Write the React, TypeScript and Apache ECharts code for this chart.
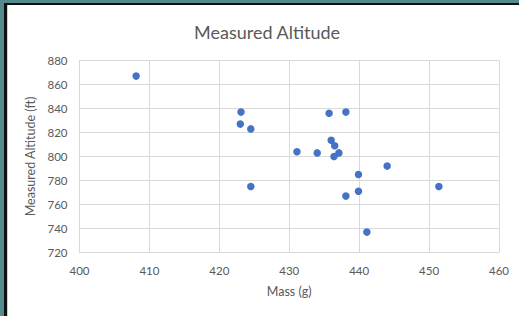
import React, { useEffect, useRef } from "react";
import * as echarts from "echarts";

const massValues = [408.1, 423.1, 423.0, 424.5, 424.5, 431.1, 434.0, 435.7, 438.1, 436.0, 436.5, 436.4, 437.1, 438.1, 439.9, 439.9, 441.1, 444.0, 451.4];
const altitudeValues = [867, 837, 827, 823, 775, 804, 803, 836, 837, 813.5, 809, 800, 803, 767, 785, 771, 737, 792, 775];
const titleText = "Measured Altitude";
const xName = "Mass (g)";
const yName = "Measured Altitude (ft)";

const FONT = "Lato, 'Open Sans', sans-serif";
const TXT = "#595959";
const GRID = "#d9d9d9";

export default function App() {
  const ref = useRef<HTMLDivElement>(null);
  useEffect(() => {
    if (!ref.current) return;
    const chart = echarts.init(ref.current, undefined, { renderer: "svg" });
    const data = massValues.map((m, i) => [m, altitudeValues[i]]);
    chart.setOption({
      animation: false,
      backgroundColor: "#ffffff",
      title: {
        text: titleText,
        left: 189,
        top: 18,
        textStyle: { fontFamily: FONT, fontSize: 18, fontWeight: "normal", color: TXT },
      },
      grid: { left: 79.5, right: 20, top: 60.5, bottom: 63.5 },
      xAxis: {
        type: "value",
        min: 400,
        max: 460,
        interval: 10,
        name: xName,
        nameLocation: "middle",
        nameGap: 32,
        nameTextStyle: { fontFamily: FONT, fontSize: 12.5, color: TXT },
        axisLine: { show: true, lineStyle: { color: GRID } },
        axisTick: { show: false },
        axisLabel: { fontFamily: FONT, fontSize: 11.5, color: TXT, margin: 12 },
        splitLine: { show: true, lineStyle: { color: GRID } },
      },
      yAxis: {
        type: "value",
        min: 720,
        max: 880,
        interval: 20,
        name: yName,
        nameLocation: "middle",
        nameGap: 36,
        nameRotate: 90,
        nameTextStyle: { fontFamily: FONT, fontSize: 12.5, color: TXT },
        axisLine: { show: true, lineStyle: { color: GRID } },
        axisTick: { show: false },
        axisLabel: { fontFamily: FONT, fontSize: 11.5, color: TXT, margin: 12 },
        splitLine: { show: true, lineStyle: { color: GRID } },
      },
      series: [
        {
          type: "scatter",
          data,
          symbol: "circle",
          symbolSize: 7.5,
          itemStyle: { color: "#4472C4", opacity: 1 },
        },
      ],
      graphic: [
        { type: "rect", shape: { x: 0, y: 0, width: 519, height: 3 }, style: { fill: "#538b8c" }, silent: true },
        { type: "rect", shape: { x: 0, y: 0, width: 4, height: 316 }, style: { fill: "#538b8c" }, silent: true },
        { type: "rect", shape: { x: 4, y: 3, width: 515, height: 2 }, style: { fill: "#111111" }, silent: true },
        { type: "rect", shape: { x: 4, y: 3, width: 3, height: 313 }, style: { fill: "#111111" }, silent: true },
        { type: "rect", shape: { x: 7, y: 5, width: 1, height: 311 }, style: { fill: "#d0d0d0" }, silent: true },
      ],
    });
    return () => chart.dispose();
  }, []);
  return (
    <div style={{ position: "fixed", left: 0, top: 0, width: 519, height: 316, background: "#fff" }}>
      <div ref={ref} style={{ width: 519, height: 316 }} />
    </div>
  );
}
